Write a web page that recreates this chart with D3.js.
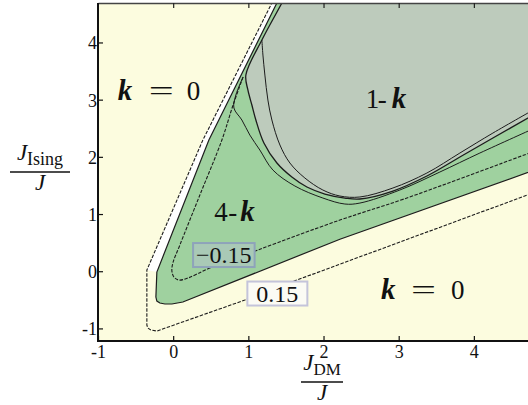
<!DOCTYPE html>
<html>
<head>
<meta charset="utf-8">
<script src="https://cdn.jsdelivr.net/npm/d3@7"></script>
<style>
  body { margin: 0; background: #fff; }
  svg text { font-family: "Liberation Serif", "Tinos", "Times New Roman", "DejaVu Serif", "Noto Serif", serif; fill: #111; }
</style>
</head>
<body>
<svg id="chart" width="528" height="405"></svg>
<script>
// Axis ticks
const xTicks = [-1, 0, 1, 2, 3, 4];
const yTicks = [-1, 0, 1, 2, 3, 4];

// Phase boundaries in the (J_DM/J, J_Ising/J) plane.
// 4-k weight: contour at +0.15 (dashed, outermost)
const fourKPlus = [[1.353, 4.795], [0.395, 2.294], [-0.35, 0.021], [-0.35, -0.941], [-0.337, -0.993],
  [-0.297, -1.028], [-0.217, -1.046], [0.954, -0.504], [1.646, -0.154], [4.532, 1.245], [4.812, 1.385]];
// 4-k weight: zero contour (edge of the 4-k region)
const fourKZero = [[1.419, 4.795], [0.475, 2.294], [-0.217, -0.014], [-0.230, -0.451], [-0.217, -0.521],
  [-0.177, -0.556], [-0.110, -0.573], [-0.017, -0.573], [0.129, -0.538], [2.218, 0.560], [4.812, 1.770]];
// 4-k weight: contour at -0.15 (dashed, inside)
const fourKMinus = [[0.930, 3.396], [0.797, 2.907], [0.648, 2.294], [0.355, 1.332], [0.089, 0.458],
  [-0.004, 0.143], [-0.017, 0.003], [0.009, -0.101], [0.076, -0.154], [0.196, -0.119], [0.488, 0.056],
  [1.127, 0.371], [2.218, 0.895], [3.069, 1.262], [4.812, 2.102]];
// 1-k weight: zero contour (edge of the 1-k region)
const oneKZero = [[1.486, 4.795], [1.446, 4.690], [1.180, 4.043], [0.967, 3.431], [0.994, 3.169],
  [1.047, 2.906], [1.100, 2.644], [1.207, 2.242], [1.380, 1.892], [1.579, 1.647], [1.779, 1.472],
  [2.018, 1.350], [2.284, 1.280], [2.484, 1.263], [2.923, 1.402], [3.375, 1.665], [3.814, 1.997],
  [4.253, 2.329], [4.812, 2.749]];
// 1-k weight: contour just outside the region
const oneKOuter = [[0.930, 3.396], [0.834, 3.081], [0.808, 2.854], [0.914, 2.644], [1.020, 2.381],
  [1.153, 2.119], [1.326, 1.770], [1.619, 1.490], [1.991, 1.280], [2.284, 1.175], [2.484, 1.192],
  [3.016, 1.420], [3.548, 1.735], [4.080, 2.067], [4.812, 2.504]];
// 1-k weight: contour just inside the region
const oneKInner = [[1.180, 4.043], [1.194, 3.780], [1.220, 3.430], [1.260, 2.993], [1.313, 2.644],
  [1.420, 2.207], [1.553, 1.892], [1.752, 1.630], [1.991, 1.420], [2.218, 1.315], [2.484, 1.298],
  [2.923, 1.455], [3.375, 1.717], [3.814, 2.067], [4.253, 2.416], [4.812, 2.836]];

// Contour level labels
const levelLabels = [
  { text: "\u22120.15", at: [0.674, 0.283], padX: 3, stroke: "#8ea3ba", fill: "#a9c9b6" },
  { text: "0.15", at: [1.386, -0.39], padX: 9, stroke: "#c4c4da", fill: "#fbfbf4" }
];
// Region names
const regionNames = [
  { parts: [["k", 0, "mi"], ["=", 31, "op"], ["0", 69, "num"]], at: [-0.736, 2.99] },
  { parts: [["1", 0, "num"], ["-", 12, "num"], ["k", 26, "mi"]], at: [2.561, 2.853] },
  { parts: [["4", 0, "num"], ["-", 14, "num"], ["k", 26, "mi"]], at: [0.548, 0.878] },
  { parts: [["k", 0, "mi"], ["=", 30, "op"], ["0", 70, "num"]], at: [2.763, -0.486] }
];

const svg = d3.select("#chart");
const P = { left: 98, right: 528, top: 3, bottom: 341 };
const x = d3.scaleLinear().domain([-1, 4.72]).range([P.left, P.right]);
const y = d3.scaleLinear().domain([-1.22, 4.69]).range([P.bottom, P.top]);

const col = { bg: "#fcfcdf", green: "#9fd19f", grey: "#bdcbbc", line: "#1c1c1c" };

svg.append("defs").append("clipPath").attr("id", "plotClip")
  .append("rect").attr("x", P.left).attr("y", P.top)
  .attr("width", P.right - P.left).attr("height", P.bottom - P.top);

svg.append("rect").attr("x", P.left).attr("y", P.top)
  .attr("width", P.right - P.left).attr("height", P.bottom - P.top).attr("fill", col.bg);

const g = svg.append("g").attr("clip-path", "url(#plotClip)");
const straight = d3.line().x(d => x(d[0])).y(d => y(d[1]));
const smooth = d3.line().x(d => x(d[0])).y(d => y(d[1])).curve(d3.curveCatmullRom.alpha(0.5));

// 4-k region
const greenPoly = fourKZero.concat([[5.4, 2.0], [5.4, 5.2], [1.45, 5.2]]);
g.append("path").attr("d", straight(greenPoly) + "Z").attr("fill", col.green);

// narrow pale band between the +0.15 and zero contours along the diagonal edge
const band = fourKPlus.slice(0, 3).concat(fourKZero.slice(0, 3).reverse());
g.append("path").attr("d", straight(band) + "Z").attr("fill", "#ffffff");

// 1-k region
const last = oneKZero[oneKZero.length - 1];
const greyPath = smooth(oneKZero) +
  "L" + x(5.4) + "," + y(last[1] + 0.3) + "L" + x(5.4) + "," + y(5.2) + "L" + x(1.5) + "," + y(5.2) + "Z";
g.append("path").attr("d", greyPath).attr("fill", col.grey);

// contour lines
const lines = [
  { pts: fourKPlus, gen: straight, dash: "3.5,1.5", w: 1.1 },
  { pts: fourKZero, gen: straight, dash: null, w: 1.2 },
  { pts: fourKMinus, gen: smooth, dash: "3.5,1.5", w: 1.1 },
  { pts: oneKOuter, gen: smooth, dash: null, w: 1.0 },
  { pts: oneKZero, gen: smooth, dash: null, w: 1.3 },
  { pts: oneKInner, gen: smooth, dash: null, w: 1.0 }
];
g.selectAll("path.contour").data(lines).join("path")
  .attr("class", "contour")
  .attr("d", d => d.gen(d.pts))
  .attr("fill", "none")
  .attr("stroke", col.line)
  .attr("stroke-width", d => d.w)
  .attr("stroke-dasharray", d => d.dash);

// level labels with boxes
levelLabels.forEach(l => {
  const lg = g.append("g");
  const t = lg.append("text")
    .attr("x", x(l.at[0])).attr("y", y(l.at[1]))
    .attr("text-anchor", "middle").attr("dominant-baseline", "central")
    .attr("font-size", 24).text(l.text);
  const bb = t.node().getBBox();
  lg.insert("rect", "text")
    .attr("x", bb.x - l.padX).attr("y", bb.y + 1)
    .attr("width", bb.width + 2 * l.padX).attr("height", bb.height - 2)
    .attr("fill", l.fill).attr("stroke", l.stroke).attr("stroke-width", 2);
});

// region names
const styles = {
  mi: { size: 29, weight: "bold", style: "italic" },
  num: { size: 27, weight: "normal", style: "normal" },
  op: { size: 27, weight: "normal", style: "normal" }
};
regionNames.forEach(r => {
  const rg = g.append("g").attr("transform", `translate(${x(r.at[0])},${y(r.at[1])})`);
  r.parts.forEach(([txt, dx, kind]) => {
    const s = styles[kind];
    const t = rg.append("text").attr("x", dx).attr("y", 0)
      .attr("font-size", s.size).attr("font-weight", s.weight).attr("font-style", s.style)
      .text(txt);
    if (kind === "op") t.attr("textLength", 25).attr("lengthAdjust", "spacingAndGlyphs");
  });
});

// axes
const fmt = d => d < 0 ? "-" + Math.abs(d) : String(d);
const ax = svg.append("g").attr("transform", `translate(0,${P.bottom})`)
  .call(d3.axisBottom(x).tickValues(xTicks).tickFormat(fmt).tickSizeInner(-5).tickSizeOuter(0).tickPadding(4));
const axTop = svg.append("g").attr("transform", `translate(0,${P.top})`)
  .call(d3.axisTop(x).tickValues(xTicks.slice(1)).tickFormat("").tickSizeInner(-5).tickSizeOuter(0));
const ay = svg.append("g").attr("transform", `translate(${P.left},0)`)
  .call(d3.axisLeft(y).tickValues(yTicks).tickFormat(fmt).tickSizeInner(-5).tickSizeOuter(0).tickPadding(1));

[ax, ay, axTop].forEach(a => a.attr("font-family", null));
[ax, ay].forEach(a => {
  a.select(".domain").attr("stroke", "#111").attr("stroke-width", 2);
  a.selectAll(".tick line").attr("stroke", "#111").attr("stroke-width", 1.2);
  a.selectAll(".tick text").attr("font-size", 18).attr("fill", "#111");
});
axTop.select(".domain").attr("stroke", "#444").attr("stroke-width", 1.5);
axTop.selectAll(".tick line").attr("stroke", "#222").attr("stroke-width", 1.2);
ay.selectAll(".tick text").attr("dy", "0.36em");
// frame lines spanning the full plot
ay.select(".domain").attr("d", `M0,${P.top}V${P.bottom + 1}`);
ax.select(".domain").attr("d", `M${P.left - 1},0H${P.right}`);

// axis titles as fractions
function fraction(cx, top, sub, subSize, barHalf) {
  const fg = svg.append("g").attr("transform", `translate(${cx},${top})`);
  const num = fg.append("text").attr("y", 0).attr("text-anchor", "middle");
  num.append("tspan").attr("font-style", "italic").attr("font-size", 23).text("J");
  num.append("tspan").attr("font-size", subSize).attr("dy", 5).text(sub);
  fg.append("line").attr("x1", -barHalf).attr("x2", barHalf).attr("y1", 12).attr("y2", 12)
    .attr("stroke", "#111").attr("stroke-width", 1.5);
  fg.append("text").attr("y", 30).attr("text-anchor", "middle")
    .attr("font-style", "italic").attr("font-size", 23).text("J");
}
fraction(40, 160, "Ising", 18, 30);
fraction(322, 370, "DM", 17, 21);
</script>
</body>
</html>
